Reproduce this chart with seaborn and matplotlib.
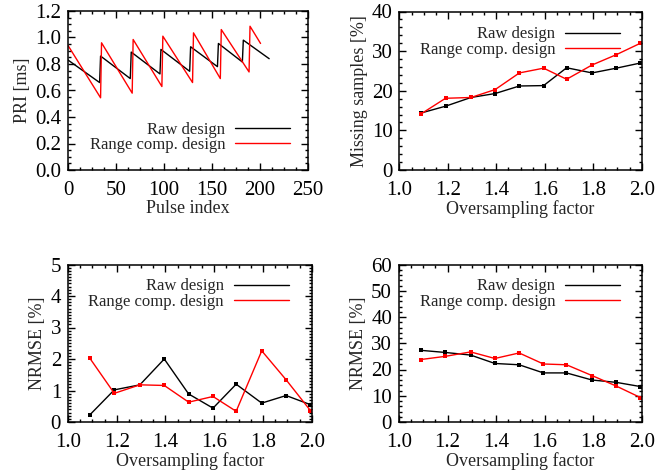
import numpy as np
import pandas as pd
import matplotlib
matplotlib.use("Agg")
import matplotlib.pyplot as plt
from matplotlib.lines import Line2D
from matplotlib.ticker import MultipleLocator, AutoMinorLocator, FormatStrFormatter
import seaborn as sns

# ---------------- data ----------------
series_names = ["Raw design", "Range comp. design"]
series_colors = ["black", "red"]

# Panel 1: PRI sawtooth (vertices)
pulse_raw = [0, 33, 34, 65, 66, 96, 97, 127, 128, 156, 157, 182, 183, 210]
pri_raw = [0.83, 0.66, 0.86, 0.69, 0.89, 0.725, 0.91, 0.745, 0.93, 0.78, 0.955, 0.815, 0.98, 0.84]
pulse_rc = [0, 34, 35, 67, 68, 98, 99, 130, 131, 159, 160, 189, 190, 201]
pri_rc = [0.94, 0.545, 0.96, 0.58, 0.985, 0.63, 1.01, 0.66, 1.035, 0.69, 1.06, 0.74, 1.085, 0.955]

# Oversampling factor
oversampling = [1.09, 1.19, 1.295, 1.395, 1.495, 1.595, 1.69, 1.795, 1.895, 1.995]

missing_raw = [14.4, 16.1, 18.3, 19.3, 21.2, 21.3, 25.8, 24.5, 25.7, 27.0]
missing_rc = [14.2, 18.1, 18.3, 20.3, 24.5, 25.7, 22.9, 26.5, 29.1, 32.0]

nrmse1_raw = [0.23, 1.02, 1.18, 2.0, 0.89, 0.44, 1.2, 0.6, 0.84, 0.55]
nrmse1_rc = [2.02, 0.91, 1.18, 1.16, 0.63, 0.81, 0.34, 2.26, 1.34, 0.36]

nrmse2_raw = [27.3, 26.5, 25.5, 22.3, 21.8, 18.7, 18.7, 16.0, 15.1, 13.5]
nrmse2_rc = [23.8, 25.0, 26.7, 24.2, 26.3, 22.1, 21.8, 17.7, 13.7, 9.3]

# ---------------- style ----------------
sns.set_theme(style="ticks")
plt.rcParams["font.family"] = ["Liberation Serif", "DejaVu Serif"]
plt.rcParams["axes.linewidth"] = 1.1

W, H = 668, 470
fig = plt.figure(figsize=(W / 100, H / 100), dpi=100)
fig.patch.set_facecolor("white")


def make_ax(left, right, top, bottom):
    return fig.add_axes([left / W, (H - bottom) / H, (right - left) / W, (bottom - top) / H])


def long_df(x, a, b):
    return pd.DataFrame({
        "x": list(x[0]) + list(x[1]),
        "y": list(a) + list(b),
        "series": [series_names[0]] * len(a) + [series_names[1]] * len(b),
    })


palette = dict(zip(series_names, series_colors))
TICK_FS = 15
LABEL_FS = 13


def style_ax(ax, xlim, ylim, xmaj, ymaj, xmin_n, ymin_n, xfmt, yfmt, xlabel, ylabel):
    ax.set_xlim(*xlim)
    ax.set_ylim(*ylim)
    ax.xaxis.set_major_locator(MultipleLocator(xmaj))
    ax.yaxis.set_major_locator(MultipleLocator(ymaj))
    ax.xaxis.set_minor_locator(AutoMinorLocator(xmin_n))
    ax.yaxis.set_minor_locator(AutoMinorLocator(ymin_n))
    ax.xaxis.set_major_formatter(FormatStrFormatter(xfmt))
    ax.yaxis.set_major_formatter(FormatStrFormatter(yfmt))
    ax.tick_params(which="both", direction="in", top=True, right=True, width=1.0,
                   labelsize=TICK_FS, colors="black")
    ax.tick_params(which="major", length=5)
    ax.tick_params(which="minor", length=2.5)
    ax.tick_params(axis="x", which="major", pad=8)
    ax.tick_params(axis="y", which="major", pad=5)
    ax.set_xlabel(xlabel, fontsize=LABEL_FS, labelpad=0)
    ax.set_ylabel(ylabel, fontsize=LABEL_FS, labelpad=3)
    ax.set_facecolor("white")
    for s in ax.spines.values():
        s.set_color("black")


def add_legend(ax, right_px, center_px):
    handles = [Line2D([], [], color=c, lw=1.0) for c in series_colors]
    ax.legend(handles, series_names, loc="center right",
              bbox_to_anchor=(right_px / W, (H - center_px) / H),
              bbox_transform=fig.transFigure, frameon=False, markerfirst=False,
              fontsize=12, handlelength=3.3, handletextpad=0.6,
              labelspacing=-0.05, borderpad=0, borderaxespad=0)


# Panel 1
ax1 = make_ax(68, 307.5, 11, 170)
df1 = long_df((pulse_raw, pulse_rc), pri_raw, pri_rc)
sns.lineplot(data=df1, x="x", y="y", hue="series", palette=palette, estimator=None,
             sort=False, lw=1.0, legend=False, ax=ax1)
style_ax(ax1, (0, 250), (0, 1.2), 50, 0.2, 4, 4, "%d", "%.1f", "Pulse index", "PRI [ms]")
add_legend(ax1, 290, 137.5)

# Panels 2-4
specs = [
    ((399.5, 641.7, 11.5, 170), missing_raw, missing_rc, (0, 40), 10, 5, "%d",
     "Missing samples [%]", (620, 42)),
    ((68, 311.7, 264.5, 422), nrmse1_raw, nrmse1_rc, (0, 5), 1, 10, "%d",
     "NRMSE [%]", (289, 294)),
    ((399, 641.7, 264.5, 422), nrmse2_raw, nrmse2_rc, (0, 60), 10, 5, "%d",
     "NRMSE [%]", (620, 294)),
]
for box, raw, rc, ylim, ymaj, ymin_n, yfmt, ylabel, leg in specs:
    ax = make_ax(*box)
    df = long_df((oversampling, oversampling), raw, rc)
    sns.lineplot(data=df, x="x", y="y", hue="series", palette=palette, estimator=None,
                 sort=False, lw=1.0, marker="s", markersize=3.5, markeredgewidth=0,
                 legend=False, ax=ax)
    style_ax(ax, (1.0, 2.0), ylim, 0.2, ymaj, 4, ymin_n, "%.1f", yfmt,
             "Oversampling factor", ylabel)
    add_legend(ax, *leg)

fig.savefig("out.png", dpi=100, facecolor="white")
